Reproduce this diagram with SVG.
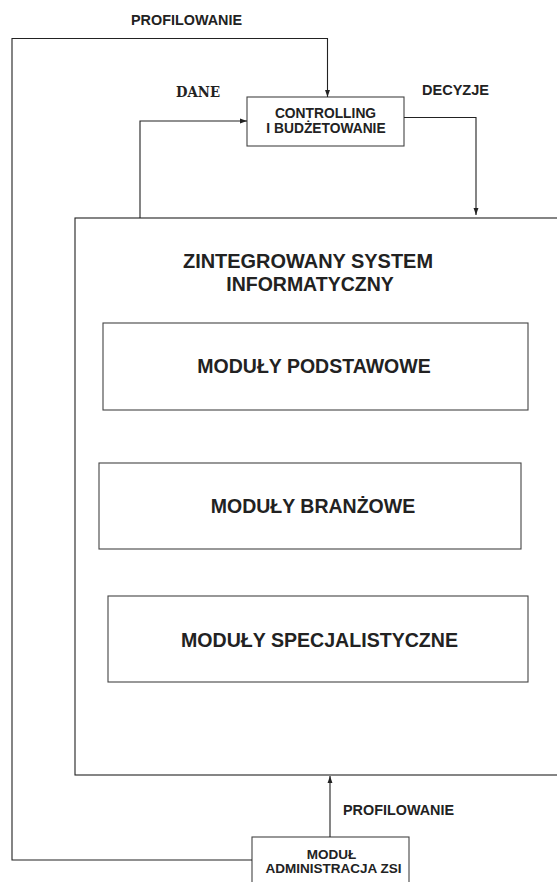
<svg xmlns="http://www.w3.org/2000/svg" width="557" height="882" viewBox="0 0 557 882">
<style>
.box{fill:#fff;stroke:#444;stroke-width:1.1}
.big{fill:#fff;stroke:#222;stroke-width:1.1}
.ln{fill:none;stroke:#222;stroke-width:1.1}
.t{font-family:"Liberation Sans",Arial,sans-serif;font-weight:bold;fill:#222;text-anchor:middle}
.s{font-family:"DejaVu Serif","Liberation Serif",serif;font-weight:bold;fill:#222;text-anchor:middle}
</style>
<defs>
<marker id="ah" viewBox="0 0 10 10" refX="10" refY="5" markerWidth="7" markerHeight="7" markerUnits="userSpaceOnUse" orient="auto">
<path d="M0,1.5 L10,5 L0,8.5 Z" fill="#222"/>
</marker>
</defs>
<g id="zsi">
<rect class="big" x="75" y="218" width="540" height="557"/>
<text class="t" x="308" y="268" font-size="19.5" textLength="250" lengthAdjust="spacingAndGlyphs">ZINTEGROWANY SYSTEM</text>
<text class="t" x="310" y="291" font-size="19.5">INFORMATYCZNY</text>
</g>
<g id="podstawowe">
<rect class="box" x="103" y="323" width="425" height="87"/>
<text class="t" x="314" y="373" font-size="19.5">MODUŁY PODSTAWOWE</text>
</g>
<g id="branzowe">
<rect class="box" x="99" y="463" width="422" height="86"/>
<text class="t" x="313" y="513" font-size="19.5">MODUŁY BRANŻOWE</text>
</g>
<g id="specjalistyczne">
<rect class="box" x="108" y="596" width="420" height="86"/>
<text class="t" x="319.5" y="647" font-size="19.5" textLength="277" lengthAdjust="spacingAndGlyphs">MODUŁY SPECJALISTYCZNE</text>
</g>
<g id="controlling">
<rect class="box" x="247" y="97" width="157" height="49"/>
<text class="t" x="325.5" y="118" font-size="13.8">CONTROLLING</text>
<text class="t" x="326" y="133" font-size="13.8">I BUDŻETOWANIE</text>
</g>
<g id="administracja">
<rect class="box" x="252" y="837" width="157" height="60"/>
<text class="t" x="331.5" y="859" font-size="13.5">MODUŁ</text>
<text class="t" x="333.5" y="873" font-size="13.5">ADMINISTRACJA ZSI</text>
</g>
<g id="connectors">
<path class="ln" d="M252,860 H12 V38.5 H327.5 V97" marker-end="url(#ah)"/>
<path class="ln" d="M140,218 V121 H247" marker-end="url(#ah)"/>
<path class="ln" d="M404,117.5 H476 V215" marker-end="url(#ah)"/>
<path class="ln" d="M330,837 V776" marker-end="url(#ah)"/>
</g>
<g id="labels">
<text class="t" x="186.5" y="25" font-size="14" textLength="111" lengthAdjust="spacingAndGlyphs">PROFILOWANIE</text>
<text class="s" x="198" y="97" font-size="14" textLength="44" lengthAdjust="spacingAndGlyphs">DANE</text>
<text class="t" x="455.5" y="95" font-size="14" textLength="67" lengthAdjust="spacingAndGlyphs">DECYZJE</text>
<text class="t" x="398.5" y="815" font-size="14" textLength="111" lengthAdjust="spacingAndGlyphs">PROFILOWANIE</text>
</g>
</svg>
